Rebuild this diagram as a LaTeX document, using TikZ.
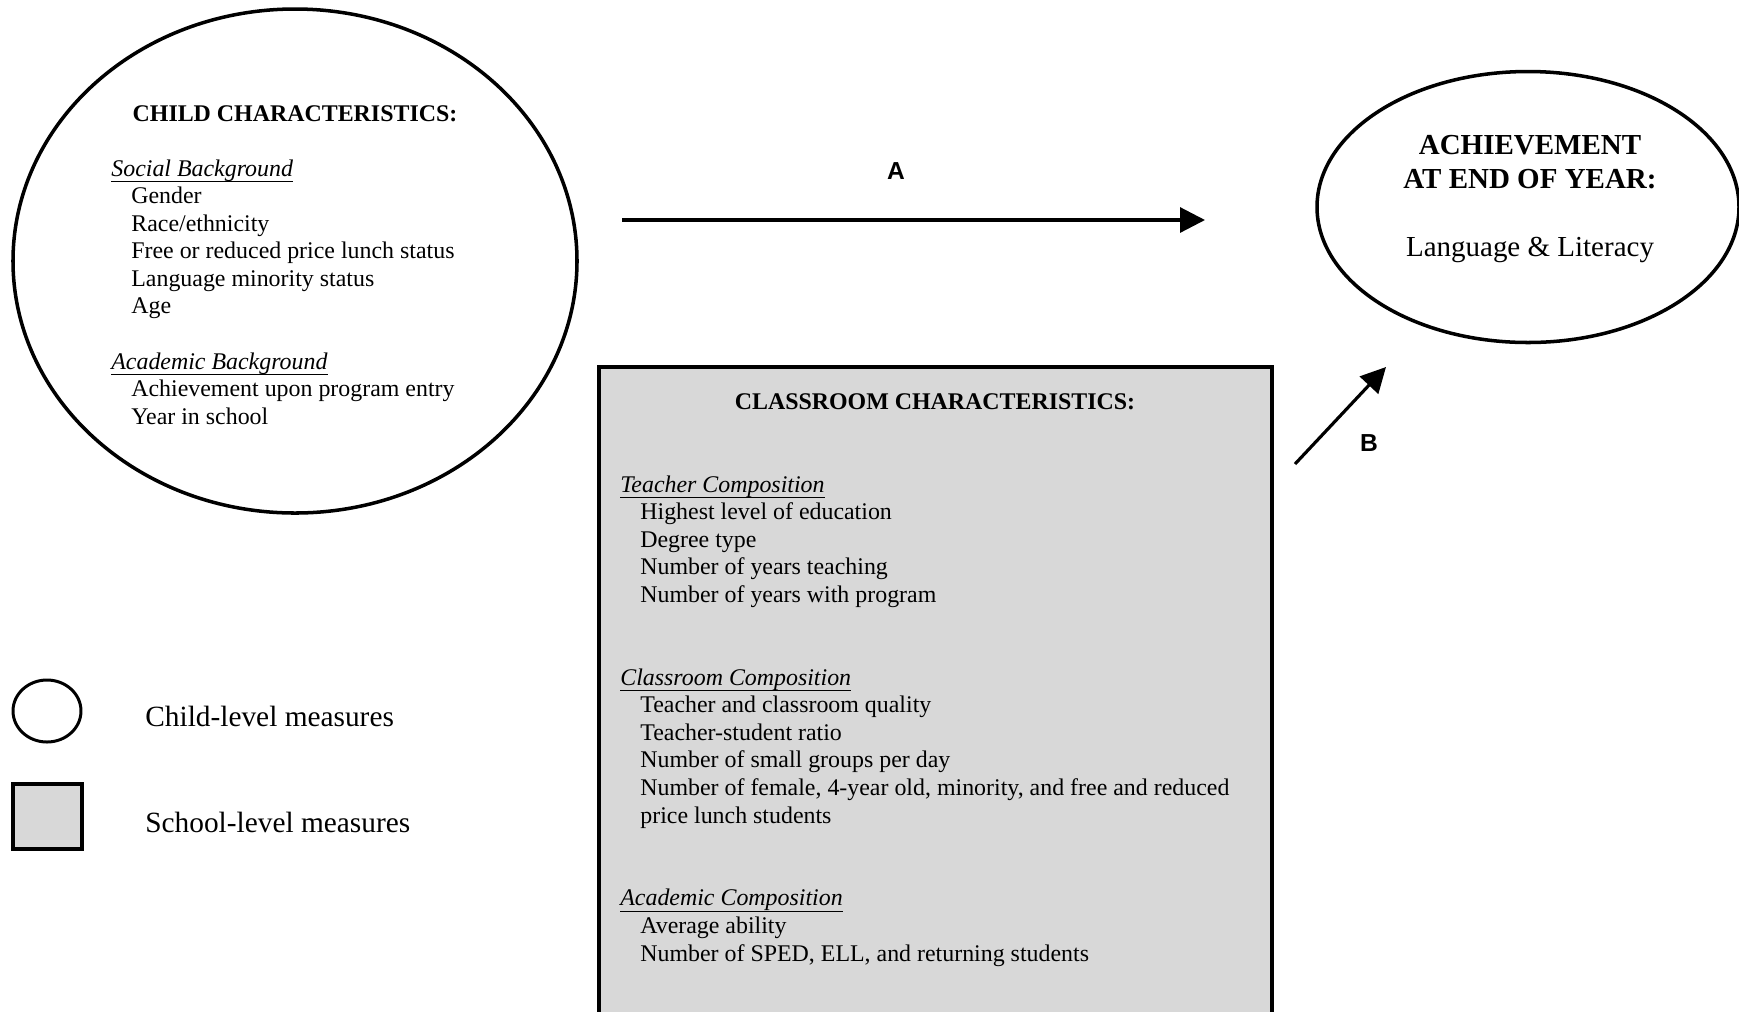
\documentclass[tikz,border=0pt]{standalone}
\usepackage{fontspec}
\setmainfont{Liberation Serif}
\newfontfamily\pathfont{Liberation Sans}
\usetikzlibrary{arrows.meta,shapes.geometric}
\definecolor{boxgray}{RGB}{216,216,216}
\newcommand{\sublabel}[1]{\setbox0\hbox{\textit{#1}}\rlap{\rule[-3.6pt]{\wd0}{0.9pt}}\box0}
\newcommand{\stepin}{\hspace*{0.4cm}}

\begin{document}
\begin{tikzpicture}[
		outline/.style={draw, line width=2pt, ellipse, inner sep=0},
		schoolbox/.style={draw, fill=boxgray, line width=2.4pt, inner sep=0},
		effect/.style={line width=1.8pt, -{Triangle[length=0.5cm,width=0.5cm]}},
		pathlabel/.style={font=\pathfont\fontsize{14}{16}\selectfont\bfseries, anchor=base, inner sep=0},
		heading/.style={font=\fontsize{13.6}{15.7}\selectfont\bfseries, anchor=base, inner sep=0},
		body/.style={font=\fontsize{13.6}{15.7}\selectfont, anchor=base west, inner sep=0},
		keytext/.style={font=\fontsize{16.7}{19}\selectfont, anchor=base west, inner sep=0},
	]
	\useasboundingbox (0,0) rectangle (34.78,-20.22);

	% child characteristics
	\node[outline, minimum width=11.28cm, minimum height=10.08cm] (child) at (5.90,-5.22) {};
	\node[heading] (childhead) at (5.90,-2.42) {CHILD CHARACTERISTICS:};
	\node[body] (childlist) at (2.22,-3.52) {\begin{tabular}[t]{@{}l@{}}
		\sublabel{Social Background}\\
		\stepin Gender\\
		\stepin Race/ethnicity\\
		\stepin Free or reduced price lunch status\\
		\stepin Language minority status\\
		\stepin Age\\[15.7pt]
		\sublabel{Academic Background}\\
		\stepin Achievement upon program entry\\
		\stepin Year in school
	\end{tabular}};

	% outcome
	\node[outline, minimum width=8.44cm, minimum height=5.42cm] (outcome) at (30.56,-4.14) {};
	\node[font=\fontsize{16.5}{19.3}\selectfont, anchor=base, inner sep=0] (outcometext) at (30.60,-3.09)
		{\begin{tabular}[t]{@{}c@{}}
		\textbf{ACHIEVEMENT}\\
		\textbf{AT END OF YEAR:}\\[19.3pt]
		Language \& Literacy
	\end{tabular}};

	% classroom characteristics
	\node[schoolbox, minimum width=13.46cm, minimum height=13.4cm, anchor=north] (classroom) at (18.71,-7.30) {};
	\node[heading] (classhead) at (18.70,-8.18) {CLASSROOM CHARACTERISTICS:};
	\node[body] (classlist) at (12.40,-9.84) {\begin{tabular}[t]{@{}l@{}}
		\sublabel{Teacher Composition}\\
		\stepin Highest level of education\\
		\stepin Degree type\\
		\stepin Number of years teaching\\
		\stepin Number of years with program\\[31.4pt]
		\sublabel{Classroom Composition}\\
		\stepin Teacher and classroom quality\\
		\stepin Teacher-student ratio\\
		\stepin Number of small groups per day\\
		\stepin Number of female, 4-year old, minority, and free and reduced\\
		\stepin price lunch students\\[31.4pt]
		\sublabel{Academic Composition}\\
		\stepin Average ability\\
		\stepin Number of SPED, ELL, and returning students
	\end{tabular}};

	% paths A and B
	\coordinate (a0) at (12.44,-4.40);
	\coordinate (a1) at (24.10,-4.40);
	\draw[effect] (a0) -- (a1);
	\node[pathlabel] (alabel) at (17.92,-3.58) {A};

	\coordinate (b0) at (25.90,-9.28);
	\coordinate (b1) at (27.72,-7.34);
	\draw[effect] (b0) -- (b1);
	\node[pathlabel] (blabel) at (27.38,-9.02) {B};

	% key
	\node[outline, line width=1.7pt, minimum width=1.36cm, minimum height=1.24cm] (childkey) at (0.94,-14.22) {};
	\node[keytext] (childkeytext) at (2.90,-14.52) {Child-level measures};
	\node[schoolbox, line width=2.2pt, minimum width=1.38cm, minimum height=1.30cm] (schoolkey) at (0.95,-16.33) {};
	\node[keytext] (schoolkeytext) at (2.90,-16.64) {School-level measures};
\end{tikzpicture}
\end{document}
